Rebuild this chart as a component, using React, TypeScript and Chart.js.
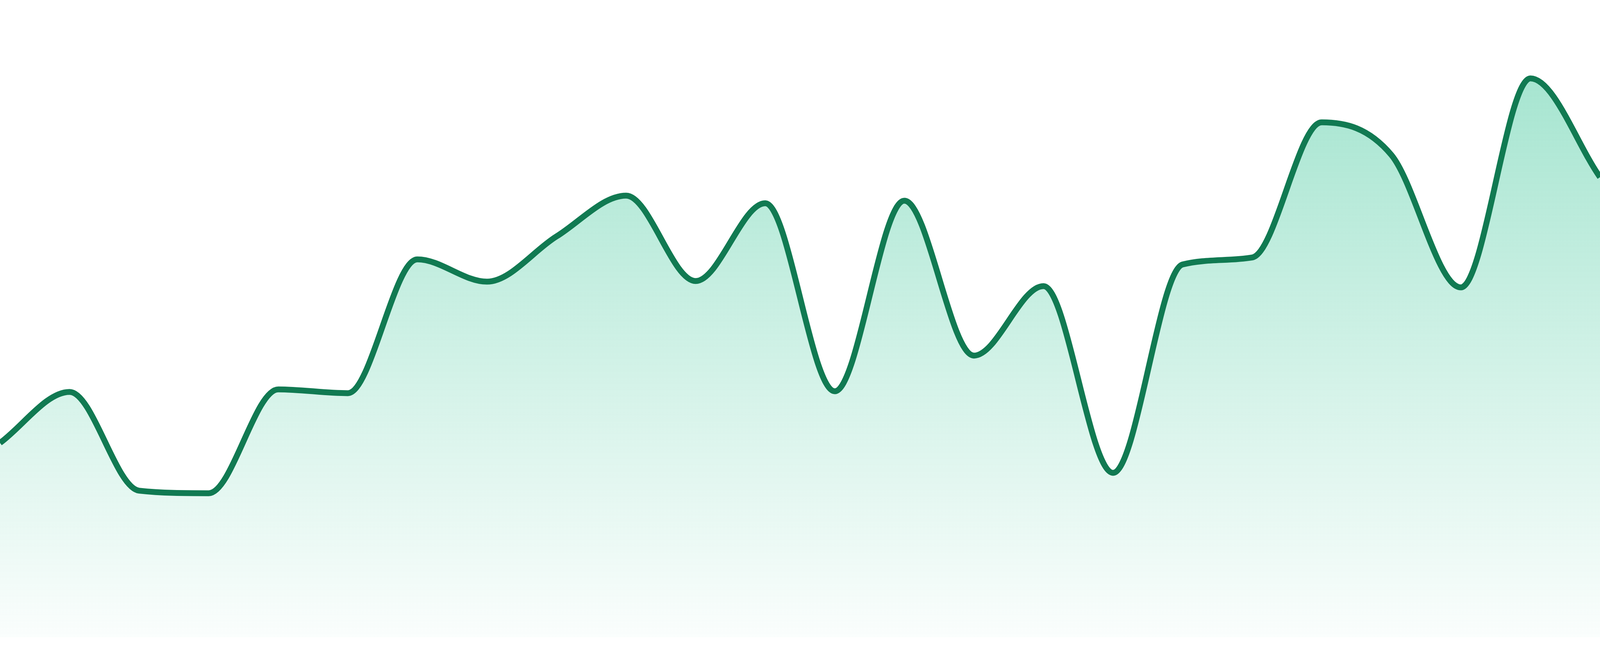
import React, { useEffect, useRef } from "react";
import { Chart, registerables } from "chart.js";

Chart.register(...registerables);

const labels: string[] = [
  "1", "2", "3", "4", "5", "6", "7", "8", "9", "10", "11", "12",
  "13", "14", "15", "16", "17", "18", "19", "20", "21", "22", "23", "24",
];

const values: number[] = [
  30.5, 38.5, 23.0, 22.6, 38.9, 38.3, 59.3, 55.8, 62.9, 69.3, 55.9, 68.1,
  38.6, 68.5, 44.2, 55.1, 25.8, 58.5, 59.6, 80.8, 75.7, 54.9, 87.7, 72.2,
];

const yMin = 0;
const yMax = 100;

const lineColor = "#117a52";
const fillTop = "rgba(16, 185, 129, 0.42)";
const fillBottom = "rgba(16, 185, 129, 0.02)";

export default function App() {
  const canvasRef = useRef<HTMLCanvasElement | null>(null);

  useEffect(() => {
    const canvas = canvasRef.current;
    if (!canvas) return;
    const chart = new Chart(canvas, {
      type: "line",
      data: {
        labels,
        datasets: [
          {
            data: values,
            borderColor: lineColor,
            borderWidth: 15,
            pointRadius: 0,
            pointHoverRadius: 0,
            cubicInterpolationMode: "monotone",
            fill: "start",
            backgroundColor: (context: any) => {
              const { ctx, chartArea } = context.chart;
              if (!chartArea) return fillTop;
              const g = ctx.createLinearGradient(0, chartArea.top, 0, chartArea.bottom);
              g.addColorStop(0, fillTop);
              g.addColorStop(1, fillBottom);
              return g;
            },
          },
        ],
      },
      options: {
        animation: false,
        responsive: true,
        maintainAspectRatio: false,
        layout: { padding: { left: 0, right: 0, top: 0, bottom: 48 } },
        plugins: {
          legend: { display: false },
          tooltip: { enabled: false },
        },
        scales: {
          x: { display: false, offset: false },
          y: { display: false, min: yMin, max: yMax },
        },
      },
    });
    return () => chart.destroy();
  }, []);

  return (
    <div
      style={{
        position: "fixed",
        left: 0,
        top: 0,
        width: "100vw",
        height: "100vh",
        background: "#ffffff",
      }}
    >
      <canvas ref={canvasRef} />
    </div>
  );
}
